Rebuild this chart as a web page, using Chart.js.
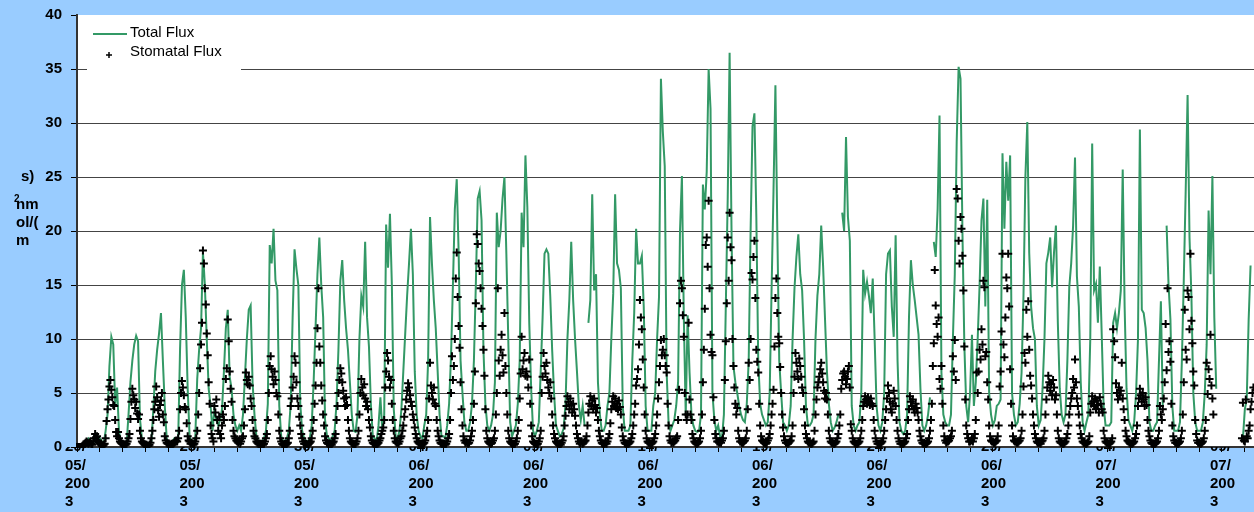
<!DOCTYPE html>
<html>
<head>
<meta charset="utf-8">
<script src="https://cdn.jsdelivr.net/npm/chart.js@4.4.1/dist/chart.umd.min.js"></script>
<style>
  html, body { margin: 0; padding: 0; background: #99ccff; }
  canvas { display: block; }
</style>
</head>
<body>
<canvas id="grafico" width="1254" height="512"></canvas>
<script>
const nombresSeries = ["Total Flux", "Stomatal Flux"];
const tituloY = "nmol/(m²s)";

// fechas marcadas en el eje x (cada 5 dias desde el 20/05/2003)
const diasEtiqueta = [0, 5, 10, 15, 20, 25, 30, 35, 40, 45, 50];
const etiquetasX = ["20/05/2003", "25/05/2003", "30/05/2003", "04/06/2003", "09/06/2003", "14/06/2003",
  "19/06/2003", "24/06/2003", "29/06/2003", "04/07/2003", "09/07/2003"];
const ticksY = [0, 5, 10, 15, 20, 25, 30, 35, 40];
const diasVisibles = 51.4;

// flujo total, una fila por dia, valores cada 2 horas (00h, 02h ... 22h)
const flujoTotal = [
  [0,0,0,0,0.2,0.5,0.8,0.6,0.3,0.5,1.2,1.0],
  [0.8,0.5,0.3,1.5,3,7.5,10.2,9.5,4,5.5,1.5,0.5],
  [0.3,0.2,0.3,3,6,8,9.5,10.3,9.8,2.6,0.8,0.3],
  [0.3,0.2,0.2,0.5,3.5,7,9,10.5,12.4,8,3.8,0.8],
  [0.3,0.2,0.5,0.8,0.5,0.5,9,15,16.4,12,5.4,1],
  [0.5,0.3,1,6.3,9,11,18,15,10,5.4,3.8,1.5],
  [3.5,2.5,2,2.5,3.5,7,11,12.7,6.5,5.4,3,2],
  [1.5,2,1.5,3,6.5,10,12.7,13.1,6,3,1,0.5],
  [0.5,0.5,0.8,1.5,4,18.7,17,20.2,15.4,14.5,3.8,1],
  [0.5,0.5,0.8,1.5,4,12,18.3,16.5,15,4,1.5,0.8],
  [0.5,0.5,0.8,2,6,11,16,19.4,15,12,2.5,1],
  [0.8,0.5,1,1.5,4,9,15.4,17.3,13.6,11,9,6],
  [3,1.5,1.4,3,10,14,13,19,12,9.3,4,1],
  [0.8,0.5,2,4.6,1.5,3,20.6,16.6,21.6,15,3.5,1],
  [0.8,1.5,3.5,7,10.5,14,17,20.2,16,7,3,1.5],
  [1,0.8,2,3,8,21.3,17,13.6,11,7,3,1],
  [1,0.8,2,4,8.4,15,22,24.8,18,8,5,2.3],
  [1.5,1.5,2.3,4,8,15,23,23.7,21,9,4,2],
  [1.5,2,3,6,21.7,18.5,20,23,25,17.9,10,2.3],
  [1,1.5,2,4,8,21.7,18.5,27,22.2,11.5,5.4,1.5],
  [1,1.5,2.3,7,12,17.9,18.3,17.9,14,9,5,2],
  [1.5,1,1.2,1.7,4,10,13.6,19,13.6,10,7,3.8],
  [2.5,3.8,2,null,11.5,13.6,23.4,14.5,16,6,3,1.5],
  [1.5,2,3.8,5,10,14.2,23.4,17,16.4,14.7,3.8,1.5],
  [1.5,1.5,2,8,12.4,20.2,17,17,17.7,13,3.8,1.5],
  [1.5,1.5,3.8,5,10,13.9,34.1,29.2,26,6.9,2.3,1.5],
  [2,2.5,3.8,6,20,25.1,12,3,12.2,6.9,3,2],
  [1.5,1.4,1.5,3,24.3,22,25.5,35,31.3,5,2.5,1.5],
  [2,1,0.8,3,13,23,36.5,20,7.5,6,5,3.8],
  [3,2.5,2.3,4,8,20,29.7,30.9,21.3,8,4,3],
  [2.5,2,2.3,5,14.7,23.7,33.5,20,8,5,2.3,2],
  [1.5,2,3.8,10,14.7,17.6,19.7,16,14.5,10,3.8,2],
  [2,2.3,3,10,14,16,20.5,16.7,11.8,7,4,2.3],
  [1.5,1.8,2.3,3,null,21.7,20,28.7,21.3,19.1,3.8,2],
  [1.5,2,2.3,5,16.4,14.2,15.3,14,12.4,15.6,10,3.8],
  [2,1.5,2.3,5,16,17.9,18.2,13,10.2,19.6,8,2.3],
  [1.5,1.2,1.5,3,12,17.3,15,13.6,12,10.4,5.4,2],
  [1.5,2,3,4.6,null,19,17.6,22,30.7,6.9,3,2.3],
  [2,2,3,10,16,28.3,35.2,34.1,20,9.5,3.8,2.3],
  [5,10.4,3.8,6,10,15,21,23,13,22.9,5,3],
  [2,2.5,3.8,4,4.4,27.2,20.2,26.4,22.8,27,5,3],
  [2,2.3,4,6.9,14,25,30.1,18,13,11,10,3.8],
  [2,2.5,5.4,10,17,18,19.4,14.8,18,20.5,11.5,5.4],
  [3,2.3,3,8,14.8,17,20.5,26.8,15.8,13,6,2.3],
  [1.5,2.3,3,10,28.1,14.5,15.1,11.5,16.7,10.4,3.8,2],
  [2,2,2.3,11.5,12.4,11,12.4,14.5,25.7,13,5.4,2.5],
  [2,1.5,2.3,5,10,29.4,12.7,12.4,11,8,2.3,1.5],
  [1.5,2,2.3,8,13.5,3.8,null,20.5,15.1,11.8,3.8,1.5],
  [1.5,1.5,2.3,8,15.4,23.7,32.6,19.4,14,5,2.3,1.5],
  [1.5,1.5,2.3,5,9.5,21.9,16,25.1,12,5.4,null,null],
  [null,null,null,null,null,null,null,null,null,null,null,0.8],
  [3.5,4.4,11.8,16.8]
];

// flujo estomatico, una fila por dia, valores horarios
const flujoEstomatico = [
  [0,0,0,0,0,0,0.1,0.2,0.3,0.4,0.5,0.4,0.3,0.4,0.5,0.3,0.2,0.5,0.8,1.2,0.9,1.0,0.6,0.4],
  [0.3,0.2,0.2,0.1,0.2,0.3,0.8,2.4,3.5,4.4,5.6,6.2,5.3,4.6,3.9,3.8,2.5,1.4,1.0,1.4,0.8,0.5,0.4,0.3],
  [0.3,0.2,0.2,0.2,0.3,0.5,0.8,1.2,2.6,4.2,5.4,4.8,4.4,3.6,4.2,3.1,2.6,3.0,1.5,0.8,0.5,0.4,0.3,0.2],
  [0.2,0.2,0.1,0.1,0.2,0.4,0.8,1.5,2.5,3.5,4.2,5.6,4.6,3.4,2.8,3.9,4.3,5.0,3.0,2.3,1.0,0.6,0.4,0.3],
  [0.3,0.2,0.2,0.3,0.2,0.3,0.4,0.5,0.6,0.5,0.8,1.5,3.5,5.0,6.1,5.5,4.8,3.7,3.5,2.2,1.0,0.6,0.5,0.3],
  [0.4,0.3,0.2,0.3,0.5,0.8,1.5,3.0,5.0,7.3,9.5,11.5,18.2,17.0,14.7,13.2,10.5,8.5,6.0,4.0,2.0,1.2,0.8,0.5],
  [3.8,3.2,4.4,2.5,1.5,2.8,1.2,0.8,2.0,3.0,2.5,3.8,6.3,7.3,11.8,9.8,7.0,5.4,4.2,2.5,1.5,1.0,0.8,0.6],
  [0.5,0.4,0.6,0.3,0.5,0.8,1.0,2.0,3.5,6.9,6.2,5.8,6.5,5.7,4.5,3.8,2.5,1.5,1.0,0.8,0.5,0.4,0.3,0.3],
  [0.3,0.2,0.3,0.2,0.3,0.5,0.8,1.2,2.5,5.0,7.5,8.4,7.2,6.5,5.8,7.0,6.2,5.0,4.7,3.0,1.5,0.8,0.5,0.3],
  [0.2,0.2,0.3,0.2,0.3,0.4,0.8,1.5,3.8,4.5,5.5,6.5,8.4,7.8,6.0,4.5,3.8,2.8,2.0,1.2,0.8,0.5,0.3,0.3],
  [0.3,0.2,0.2,0.3,0.4,0.5,0.8,1.5,2.5,4.0,5.7,7.8,11.0,14.7,9.3,7.8,5.7,4.3,3.0,2.0,1.0,0.6,0.4,0.3],
  [0.3,0.2,0.3,0.2,0.4,0.5,0.8,1.2,2.5,3.8,5.0,6.2,7.3,6.8,6.0,5.2,4.5,3.8,4.6,3.9,2.5,1.5,0.8,0.5],
  [0.4,0.3,0.3,0.2,0.3,0.5,0.8,1.5,3.0,5.0,6.3,5.5,4.8,5.8,4.5,3.8,4.2,3.5,2.5,1.8,1.0,0.6,0.4,0.3],
  [0.3,0.2,0.2,0.3,0.4,0.6,0.8,1.2,1.5,1.8,2.5,5.5,7.0,8.7,8.0,6.5,5.5,6.2,4.0,2.5,1.5,0.8,0.5,0.4],
  [0.4,0.3,0.5,0.8,1.0,1.5,2.0,2.8,3.5,4.4,5.2,5.9,5.5,4.8,4.2,3.8,3.0,2.5,1.8,1.2,0.8,0.5,0.4,0.3],
  [0.3,0.3,0.2,0.3,0.4,0.6,1.0,1.5,2.5,4.5,7.8,5.7,5.0,4.4,5.5,4.0,3.8,2.5,1.5,1.0,0.6,0.4,0.3,0.3],
  [0.3,0.3,0.2,0.3,0.5,0.8,1.2,2.5,5.0,8.4,6.2,7.5,10.0,15.6,18.0,13.9,11.2,9.2,6.0,3.5,2.0,1.0,0.6,0.4],
  [0.5,0.4,0.3,0.4,0.6,1.0,1.5,2.5,4.0,7.0,13.3,19.7,18.8,17.0,16.3,14.7,12.8,11.2,9.0,6.6,3.5,1.5,0.8,0.5],
  [0.4,0.3,0.3,0.4,0.6,0.8,1.5,3.0,5.0,14.7,8.0,6.6,9.0,10.4,8.5,6.9,12.4,7.5,5.0,3.0,1.5,0.8,0.5,0.4],
  [0.3,0.3,0.2,0.3,0.5,0.8,1.5,2.5,4.5,6.8,10.2,7.2,8.0,8.7,6.6,7.0,6.5,5.5,8.1,4.0,2.0,1.0,0.5,0.4],
  [0.3,0.3,0.2,0.3,0.5,0.8,1.5,5.0,6.5,8.7,7.5,6.8,7.8,6.2,5.5,5.0,6.0,4.5,3.0,2.0,1.2,0.8,0.5,0.4],
  [0.3,0.2,0.3,0.2,0.4,0.6,1.0,2.0,2.9,3.8,4.7,4.2,3.5,4.5,3.9,3.2,4.0,3.5,2.9,2.0,1.2,0.8,0.5,0.3],
  [0.4,0.5,0.3,0.4,0.5,0.6,1.0,2.0,3.2,4.0,4.7,3.8,4.3,3.5,4.5,3.9,3.2,3.6,2.5,1.5,1.0,0.6,0.4,0.3],
  [0.3,0.3,0.4,0.3,0.5,0.8,1.2,2.2,3.5,4.2,4.7,3.8,4.5,3.6,4.0,3.5,4.3,3.7,3.0,1.8,1.0,0.6,0.4,0.3],
  [0.3,0.3,0.3,0.4,0.5,0.8,1.2,2.0,3.0,4.0,5.7,6.3,7.2,9.5,13.6,12.0,10.9,8.1,5.5,3.0,1.5,0.8,0.5,0.4],
  [0.4,0.3,0.3,0.4,0.5,0.8,1.2,2.0,3.0,4.5,6.0,7.5,9.9,8.5,9.0,10.0,8.5,7.5,6.9,4.0,2.0,1.0,0.6,0.4],
  [0.5,0.4,0.5,0.6,0.8,1.0,2.5,5.3,13.3,15.4,14.7,12.2,10.2,5.0,3.0,2.5,3.0,11.5,4.4,3.0,2.5,1.2,0.8,0.5],
  [0.4,0.3,0.3,0.4,0.5,0.8,1.5,3.0,6.0,9.0,12.8,18.7,19.4,16.7,22.8,14.7,10.4,8.8,8.5,4.6,2.5,1.2,0.8,0.5],
  [0.5,0.4,0.5,0.4,0.6,0.8,1.5,6.2,9.8,13.3,19.4,15.4,21.7,18.5,17.3,10.0,7.5,5.5,4.0,3.0,3.6,1.5,0.8,0.5],
  [0.5,0.4,0.4,0.5,0.6,0.8,1.5,3.5,7.8,6.2,10.0,16.1,15.5,17.6,19.1,13.8,9.0,7.9,6.9,4.0,2.0,1.0,0.6,0.5],
  [0.4,0.4,0.3,0.4,0.6,0.8,1.2,2.0,3.0,4.0,5.3,9.3,13.8,15.6,12.4,10.2,9.6,7.4,5.0,3.0,1.8,1.0,0.6,0.4],
  [0.4,0.3,0.4,0.5,0.6,1.0,2.0,5.0,6.5,8.7,7.8,7.0,6.3,8.2,7.5,6.5,5.5,5.0,3.5,2.0,1.2,0.8,0.5,0.4],
  [0.4,0.3,0.3,0.4,0.5,1.5,3.0,4.4,5.5,6.0,6.5,7.2,7.8,6.8,6.0,5.2,4.5,5.0,4.4,3.0,1.5,0.8,0.5,0.4],
  [0.4,0.3,0.3,0.4,0.5,0.8,1.2,2.0,3.0,5.4,6.2,6.8,7.0,6.5,5.8,6.3,7.0,7.5,5.5,2.1,1.5,0.8,0.5,0.4],
  [0.3,0.3,0.3,0.4,0.5,0.8,1.5,2.5,3.8,4.2,4.7,4.4,4.0,4.6,4.2,3.9,4.5,4.0,3.8,2.5,1.5,0.8,0.5,0.3],
  [0.3,0.3,0.3,0.4,0.5,0.8,1.5,2.5,3.5,4.5,5.7,5.0,4.2,3.5,3.2,4.0,5.2,4.5,3.8,2.5,1.5,0.8,0.5,0.3],
  [0.3,0.3,0.3,0.4,0.5,0.8,1.2,2.5,3.5,4.7,4.2,3.8,4.4,3.5,3.2,4.0,3.6,3.2,2.5,1.5,1.0,0.6,0.4,0.3],
  [0.4,0.3,0.3,0.4,0.5,0.8,1.5,2.5,4.0,7.5,9.6,16.4,13.1,11.4,10.2,12.0,6.3,5.4,7.5,4.0,2.0,1.0,0.6,0.4],
  [0.5,0.5,0.6,0.8,1.0,1.5,8.4,7.0,9.9,6.2,23.9,23.0,19.1,17.0,21.3,20.2,17.7,14.5,9.3,4.4,2.0,1.2,0.8,0.5],
  [0.5,0.6,0.8,0.5,0.8,1.2,2.5,6.9,5.0,7.0,9.0,8.1,10.9,9.5,15.4,14.8,8.4,8.8,6.0,4.4,2.0,1.0,0.6,0.5],
  [0.5,0.4,0.4,0.5,0.6,1.0,2.0,5.6,7.0,10.7,17.9,9.5,8.3,12.0,15.7,14.7,17.9,13.0,7.2,4.0,2.0,1.0,0.6,0.5],
  [0.5,0.4,0.4,0.5,0.6,0.8,1.5,3.0,5.6,8.7,7.8,12.7,10.2,13.5,9.0,6.6,5.7,4.5,3.0,2.0,1.2,0.8,0.5,0.4],
  [0.4,0.4,0.3,0.5,0.6,0.8,1.5,3.0,4.4,5.5,6.6,6.0,5.2,5.8,4.8,6.2,5.5,4.4,4.8,3.0,1.5,0.8,0.5,0.4],
  [0.4,0.3,0.3,0.4,0.5,0.8,1.2,2.0,3.0,3.8,4.5,5.0,6.3,5.5,8.1,6.0,4.5,3.8,3.0,2.0,1.2,0.8,0.5,0.4],
  [0.4,0.3,0.3,0.4,0.5,1.0,3.2,4.0,4.7,4.2,3.8,4.5,3.5,4.3,3.9,3.2,4.6,4.0,3.5,3.2,1.5,0.8,0.5,0.4],
  [0.4,0.3,0.3,0.4,0.5,0.8,10.9,9.8,8.3,5.9,5.0,4.4,5.5,4.8,5.2,7.8,4.5,3.5,2.5,1.5,1.0,0.6,0.5,0.4],
  [0.3,0.3,0.3,0.4,0.5,0.8,1.2,2.0,3.8,4.5,5.4,4.8,4.2,5.0,4.4,3.8,4.6,3.9,2.5,1.5,1.0,0.6,0.4,0.3],
  [0.3,0.3,0.3,0.4,0.5,0.8,1.5,3.8,3.0,2.5,3.5,4.5,6.0,11.4,7.1,14.7,8.8,9.8,7.9,4.0,2.0,1.0,0.6,0.4],
  [0.4,0.3,0.3,0.4,0.5,0.8,1.5,3.0,6.0,12.7,9.0,8.1,14.5,13.9,10.9,17.9,11.7,9.6,7.0,5.7,2.5,1.2,0.6,0.4],
  [0.4,0.3,0.3,0.4,0.5,0.8,1.5,2.5,7.8,4.9,7.2,6.3,10.4,5.7,4.5,3.0,null,null,null,null,null,null,null,null],
  [null,null,null,null,null,null,null,null,null,null,null,null,null,null,null,null,null,null,null,null,null,0.8,4.1,0.6],
  [0.5,4.4,1.0,0.8,1.5,2.0,3.5,4.2,5.0,5.5]
];

const fuente = "'Liberation Sans', Arial, sans-serif";

// pasa las filas por dia a puntos {x: horas desde el 20/05, y}
function aPuntos(filas, paso) {
  const puntos = [];
  filas.forEach((fila, dia) => {
    fila.forEach((v, i) => puntos.push({ x: dia * 24 + i * paso, y: v }));
  });
  return puntos;
}

const puntosTotal = aPuntos(flujoTotal, 2);
const puntosEstomatico = aPuntos(flujoEstomatico, 1).filter(p => p.y !== null);

const fondo = {
  id: "fondo",
  beforeDraw(chart) {
    const { ctx, chartArea: a } = chart;
    ctx.save();
    ctx.fillStyle = "#99ccff";
    ctx.fillRect(0, 0, chart.width, chart.height);
    ctx.fillStyle = "#ffffff";
    ctx.fillRect(a.left, a.top, a.right - a.left, a.bottom - a.top);
    ctx.restore();
  }
};

// leyenda dentro del area del grafico, con fondo blanco
const leyenda = {
  id: "leyenda",
  afterDraw(chart) {
    const ctx = chart.ctx;
    ctx.save();
    ctx.fillStyle = "#ffffff";
    ctx.fillRect(87, 17, 154, 55);
    ctx.strokeStyle = "#339966";
    ctx.lineWidth = 2;
    ctx.beginPath();
    ctx.moveTo(93, 34);
    ctx.lineTo(127, 34);
    ctx.stroke();
    ctx.strokeStyle = "#000";
    ctx.lineWidth = 1.5;
    ctx.beginPath();
    ctx.moveTo(106, 55); ctx.lineTo(112, 55);
    ctx.moveTo(109, 52); ctx.lineTo(109, 58);
    ctx.stroke();
    ctx.fillStyle = "#000";
    ctx.font = "15px " + fuente;
    ctx.textBaseline = "middle";
    ctx.fillText(nombresSeries[0], 130, 33);
    ctx.fillText(nombresSeries[1], 130, 52);
    ctx.restore();
  }
};

// titulo del eje y, partido en trozos como en la hoja original
const tituloEjeY = {
  id: "tituloEjeY",
  afterDraw(chart) {
    const ctx = chart.ctx;
    const t = tituloY;
    ctx.save();
    ctx.fillStyle = "#000";
    ctx.textBaseline = "middle";
    ctx.font = "bold 15px " + fuente;
    ctx.fillText(t.slice(8, 10), 21, 177);  // "s)"
    ctx.fillText(t.slice(0, 2), 16, 205);   // "nm"
    ctx.fillText(t.slice(2, 6), 16, 223);   // "ol/("
    ctx.fillText(t.slice(6, 7), 16, 241);   // "m"
    ctx.font = "bold 10px " + fuente;
    ctx.fillText("2", 14, 199);
    ctx.restore();
  }
};

const ctx = document.getElementById("grafico").getContext("2d");

new Chart(ctx, {
  type: "line",
  data: {
    datasets: [
      {
        label: nombresSeries[1],
        data: puntosEstomatico,
        showLine: false,
        pointStyle: "cross",
        pointRadius: 4,
        pointBorderWidth: 2,
        borderColor: "#000000",
        backgroundColor: "#000000",
        clip: 1,
        order: 0
      },
      {
        label: nombresSeries[0],
        data: puntosTotal,
        borderColor: "#339966",
        borderWidth: 2,
        pointRadius: 0,
        tension: 0,
        spanGaps: false,
        order: 1
      }
    ]
  },
  options: {
    responsive: false,
    animation: false,
    devicePixelRatio: 1,
    layout: { autoPadding: false, padding: { top: 15, right: 0, bottom: 0, left: 0 } },
    plugins: {
      legend: { display: false },
      tooltip: { enabled: false }
    },
    scales: {
      x: {
        type: "linear",
        min: 0,
        max: diasVisibles * 24,
        afterBuildTicks: (s) => {
          s.ticks = flujoTotal.map((_, dia) => ({ value: dia * 24 }));
        },
        afterFit: (s) => {
          s.height = 65;
          s.paddingLeft = 0;
          s.paddingRight = 0;
        },
        grid: { drawOnChartArea: false, drawTicks: true, tickLength: 5, color: "#000" },
        border: { color: "#333", width: 2 },
        ticks: {
          autoSkip: false,
          maxRotation: 0,
          align: "start",
          labelOffset: -12,
          padding: -14,
          color: "#000",
          font: { family: fuente, size: 15, weight: "bold", lineHeight: 1.22 },
          callback: (v) => {
            const i = diasEtiqueta.indexOf(v / 24);
            return i >= 0 ? etiquetasX[i].match(/.{1,3}/g) : "";
          }
        }
      },
      y: {
        min: 0,
        max: 40,
        afterBuildTicks: (s) => {
          s.ticks = ticksY.map(v => ({ value: v }));
        },
        afterFit: (s) => {
          s.width = 77;
          s.paddingTop = 0;
          s.paddingBottom = 0;
        },
        grid: {
          color: (c) => (c.tick && c.tick.value === 40) ? "rgba(0,0,0,0)" : "#444",
          tickColor: "#000",
          tickLength: 6,
          lineWidth: 1
        },
        border: { color: "#333", width: 2 },
        ticks: {
          padding: 9,
          color: "#000",
          font: { family: fuente, size: 15, weight: "bold" }
        }
      }
    }
  },
  plugins: [fondo, leyenda, tituloEjeY]
});
</script>
</body>
</html>
